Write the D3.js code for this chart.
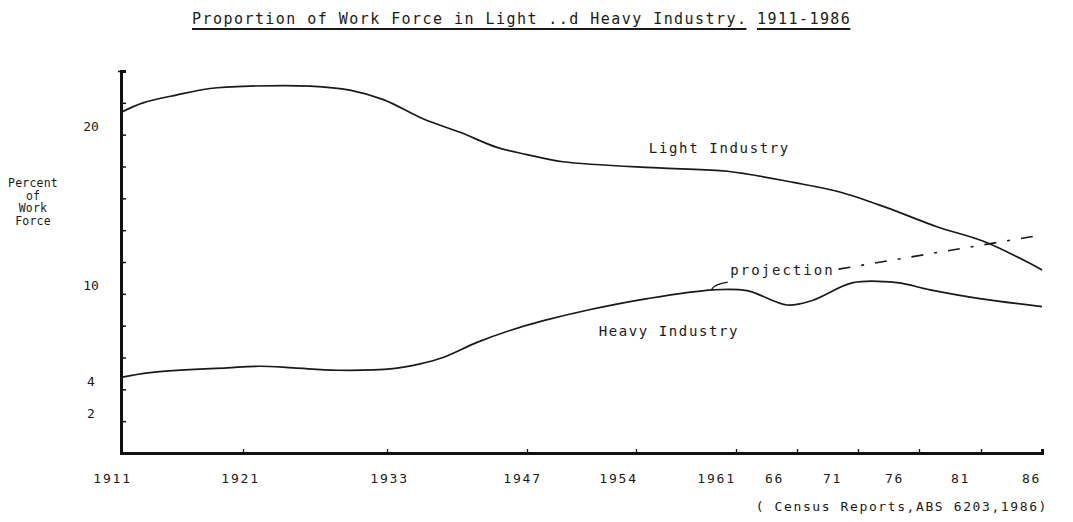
<!DOCTYPE html>
<html>
<head>
<meta charset="utf-8">
<script src="https://cdn.jsdelivr.net/npm/d3@7"></script>
<style>
  body { margin: 0; background: #fff; }
  text { font-family: "DejaVu Sans Mono", "Liberation Mono", monospace; fill: #1a1a1a; }
</style>
</head>
<body>
<div id="main"></div>
<script>
// ---- data ----
const tickYears  = [1911, 1921, 1933, 1947, 1954, 1961, 1966, 1971, 1976, 1981, 1986];
const tickLabels = ["1911", "1921", "1933", "1947", "1954", "1961", "66", "71", "76", "81", "86"];
const yTicks     = [0, 2, 4, 6, 8, 10, 12, 14, 16, 18, 20, 22, 24];
const yLabelled  = [2, 4, 10, 20];

const lightYears  = [1911, 1912.8, 1915.6, 1918.3, 1921.6, 1926.6, 1929.9, 1932.7, 1936.6, 1940.3, 1944, 1947,
                     1949.3, 1955.9, 1960.4, 1965.7, 1969.5, 1973.4, 1977.5, 1981.2, 1985.3, 1986];
const lightValues = [21.4, 22.0, 22.5, 22.9, 23.05, 23.05, 22.8, 22.2, 21.0, 20.15, 19.2, 18.75,
                     18.3, 17.9, 17.7, 17.0, 16.4, 15.4, 14.2, 13.3, 11.8, 11.5];

const heavyYears  = [1911, 1913.4, 1919.7, 1922.4, 1925.2, 1928.8, 1933.6, 1936.3, 1938.6, 1942, 1945.3, 1948,
                     1951, 1954.8, 1959.4, 1961.9, 1965.2, 1967.3, 1970.6, 1974.2, 1976.9, 1980.9, 1986];
const heavyValues = [4.75, 5.05, 5.35, 5.45, 5.35, 5.2, 5.3, 5.6, 6.0, 6.95, 7.7, 8.3,
                     9.0, 9.7, 10.25, 10.2, 9.3, 9.6, 10.7, 10.7, 10.25, 9.7, 9.2];

const projYears  = [1969.4, 1986];
const projValues = [11.55, 13.7];

// ---- layout ----
const ctx = {
    w: 1073,
    h: 522,
    left: 121,
    right: 1042,
    top: 71,
    bottom: 453,
};
// the typed axis is not evenly spaced, so each tick year gets its own stop
const xStops = [121, 243, 387, 527, 636, 736, 797, 858, 919, 981, 1042];
const labelDx = [-9, -3, 2, -5, -18, -20, -23, -26, -25, -21, -11];

const x = d3.scaleLinear().domain(tickYears).range(xStops);
const y = d3.scaleLinear().domain([0, 24]).range([ctx.bottom, ctx.top]);

const svg = d3.select("#main").append("svg")
    .attr("width", ctx.w)
    .attr("height", ctx.h);
svg.append("rect").attr("width", ctx.w).attr("height", ctx.h).attr("fill", "#fff");

// title, typed with a separate underline for the years
const t1 = svg.append("text").attr("x", 192).attr("y", 24)
    .style("font-size", "15px").style("letter-spacing", "1.45px")
    .text("Proportion of Work Force in Light ..d Heavy Industry.");
const t2 = svg.append("text").attr("x", 757).attr("y", 24)
    .style("font-size", "15px").style("letter-spacing", "1.45px")
    .text("1911-1986");
[t1, t2].forEach(function(t){
    let b = t.node().getBBox();
    svg.append("line")
        .attr("x1", b.x).attr("x2", b.x + b.width - 1)
        .attr("y1", 29).attr("y2", 29)
        .attr("stroke", "#1a1a1a").attr("stroke-width", 1.8);
});

// y axis
let yAxis = svg.append("g").attr("transform", `translate(${ctx.left},0)`)
    .call(d3.axisLeft(y).tickValues(yTicks).tickSize(-5).tickPadding(22)
          .tickFormat(d => yLabelled.includes(d) ? d : ""));
yAxis.select(".domain").attr("stroke-width", 3).attr("stroke", "#111");
yAxis.selectAll(".tick line").attr("stroke-width", 1.5).attr("stroke", "#111");
yAxis.selectAll(".tick").filter(d => d === 24).select("line").attr("x1", -3).attr("x2", 4);
yAxis.selectAll(".tick").filter(d => d === 0).select("line").remove();
yAxis.selectAll("text")
    .attr("text-anchor", "middle").attr("x", -30).attr("dy", "-0.3em")
    .style("font-size", "13px").style("font-family", "DejaVu Sans Mono").attr("fill", "#1a1a1a");

// x axis
let xAxis = svg.append("g").attr("transform", `translate(0,${ctx.bottom})`)
    .call(d3.axisBottom(x).tickValues(tickYears).tickSize(-4)
          .tickFormat((d, i) => tickLabels[i]));
xAxis.select(".domain").attr("stroke-width", 3).attr("stroke", "#111");
xAxis.selectAll(".tick line").attr("stroke-width", 1.3).attr("stroke", "#111");
xAxis.selectAll(".tick").filter(d => d === 1911).select("line").remove();
xAxis.selectAll("text")
    .attr("y", 21).attr("dy", "0.71em")
    .attr("dx", (d, i) => labelDx[i])
    .style("font-size", "13px").style("letter-spacing", "1.8px")
    .style("font-family", "DejaVu Sans Mono").attr("fill", "#1a1a1a");

// y axis title
const yTitle = ["Percent", "of", "Work", "Force"];
svg.append("g").selectAll("text").data(yTitle).enter().append("text")
    .attr("x", 33).attr("y", (d, i) => 187 + i * 12.5)
    .attr("text-anchor", "middle")
    .style("font-size", "11.5px").style("letter-spacing", "0.2px")
    .text(d => d);

// curves
const line = d3.line()
    .x(d => x(d[0])).y(d => y(d[1]))
    .curve(d3.curveCatmullRom.alpha(0.5));

svg.append("path")
    .datum(d3.zip(lightYears, lightValues))
    .attr("d", line)
    .attr("fill", "none").attr("stroke", "#1a1a1a").attr("stroke-width", 1.7);

svg.append("path")
    .datum(d3.zip(heavyYears, heavyValues))
    .attr("d", line)
    .attr("fill", "none").attr("stroke", "#1a1a1a").attr("stroke-width", 1.7);

svg.append("path")
    .datum(d3.zip(projYears, projValues))
    .attr("d", d3.line().x(d => x(d[0])).y(d => y(d[1])))
    .attr("fill", "none").attr("stroke", "#1a1a1a").attr("stroke-width", 1.6)
    .attr("stroke-dasharray", "12,11,3,11");

// labels
svg.append("text").attr("x", x(1954.9)).attr("y", y(18.85))
    .style("font-size", "14px").style("letter-spacing", "1.65px")
    .text("Light Industry");

svg.append("text").attr("x", x(1951.6)).attr("y", y(7.35))
    .style("font-size", "14px").style("letter-spacing", "1.6px")
    .text("Heavy Industry");

svg.append("text").attr("x", x(1960.6)).attr("y", y(11.2))
    .style("font-size", "14px").style("letter-spacing", "2px")
    .text("projection");

// small leader from the label down to the heavy curve
let lx = x(1959.3), ly = y(10.3);
svg.append("path")
    .attr("d", `M${lx},${ly} Q${lx + 3},${ly - 5} ${lx + 16},${ly - 7}`)
    .attr("fill", "none").attr("stroke", "#1a1a1a").attr("stroke-width", 1.3);

// source
svg.append("text").attr("x", 1048).attr("y", 511)
    .attr("text-anchor", "end")
    .style("font-size", "13px").style("letter-spacing", "1.6px")
    .text("( Census Reports,ABS 6203,1986)");
</script>
</body>
</html>
